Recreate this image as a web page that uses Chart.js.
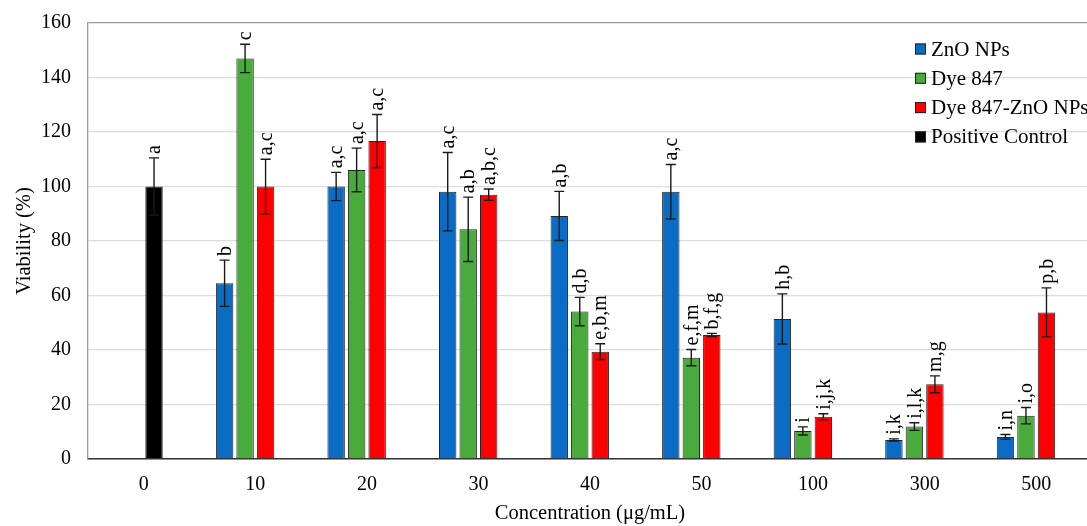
<!DOCTYPE html>
<html>
<head>
<meta charset="utf-8">
<script src="https://cdn.jsdelivr.net/npm/chart.js@4.4.1/dist/chart.umd.min.js"></script>
<style>
  html, body { margin: 0; padding: 0; background: #fff; overflow: hidden; }
</style>
</head>
<body>
<!-- plot area runs a few px past the right edge of the window, as in the figure -->
<canvas id="viabilityChart" width="1092" height="526"></canvas>
<script>
// data
var concentrations = ['0', '10', '20', '30', '40', '50', '100', '300', '500'];

var zno        = [null, 64.5, 100, 98.1, 89.2, 98.1, 51.4, 7.0, 8.1];
var znoErr     = [null, 8.5, 5.2, 14.4, 9.0, 10.0, 9.2, 0.4, 0.9];
var znoLetters = ['', 'b', 'a,c', 'a,c', 'a,b', 'a,c', 'h,b', 'i,k', 'i,n'];

var dye        = [null, 147.0, 106.1, 84.3, 54.1, 37.2, 10.3, 11.9, 15.9];
var dyeErr     = [null, 5.2, 8.0, 11.8, 5.2, 3.0, 1.5, 1.4, 3.0];
var dyeLetters = ['', 'c', 'a,c', 'a,b', 'd,b', 'e,f,m', 'i', 'i,l,k', 'i,o'];

var dyeZno        = [null, 100, 116.7, 97.0, 39.4, 45.5, 15.5, 27.4, 53.8];
var dyeZnoErr     = [null, 10.0, 9.7, 2.1, 2.9, 0.6, 1.1, 3.1, 9.0];
var dyeZnoLetters = ['', 'a,c', 'a,c', 'a,b,c', 'e,b,m', 'b,f,g', 'i,j,k', 'm,g', 'p,b'];

var control        = [100, null, null, null, null, null, null, null, null];
var controlErr     = [10.5, null, null, null, null, null, null, null, null];
var controlLetters = ['a', '', '', '', '', '', '', '', ''];

var yTicks = [0, 20, 40, 60, 80, 100, 120, 140, 160];

var serif = '"Liberation Serif", "Times New Roman", serif';

// error bars + significance letters
var annotate = {
  id: 'annotate',
  afterDatasetsDraw: function (chart) {
    var ctx = chart.ctx;
    var y = chart.scales.y;
    chart.data.datasets.forEach(function (ds, di) {
      if (!ds.errors) return;
      var meta = chart.getDatasetMeta(di);
      meta.data.forEach(function (bar, i) {
        var v = ds.data[i];
        if (v == null) return;
        var e = ds.errors[i] || 0;
        var yt = y.getPixelForValue(v + e);
        var yb = y.getPixelForValue(v - e);
        ctx.save();
        ctx.strokeStyle = '#1a1a1a';
        ctx.lineWidth = 1.4;
        ctx.beginPath();
        ctx.moveTo(bar.x, yt); ctx.lineTo(bar.x, yb);
        ctx.moveTo(bar.x - 5, yt); ctx.lineTo(bar.x + 5, yt);
        ctx.moveTo(bar.x - 5, yb); ctx.lineTo(bar.x + 5, yb);
        ctx.stroke();
        var txt = ds.letters[i];
        if (txt) {
          ctx.translate(bar.x, yt - 4);
          ctx.rotate(-Math.PI / 2);
          ctx.fillStyle = '#000';
          ctx.font = '20px ' + serif;
          ctx.textAlign = 'left';
          ctx.textBaseline = 'middle';
          ctx.fillText(txt, 0, 1);
        }
        ctx.restore();
      });
    });
  },
  afterDraw: function (chart) {
    // legend inside the plot, top right
    var ctx = chart.ctx;
    var x0 = 915, y0 = 49, step = 29.3;
    ctx.save();
    ctx.font = '21px ' + serif;
    ctx.textBaseline = 'middle';
    chart.data.datasets.filter(function (d) { return d.label; }).forEach(function (ds, k) {
      var yy = y0 + k * step;
      ctx.fillStyle = ds.backgroundColor;
      ctx.fillRect(x0, yy - 5.5, 11, 11);
      ctx.strokeStyle = '#222';
      ctx.lineWidth = 1;
      ctx.strokeRect(x0 + 0.5, yy - 5, 10, 10);
      ctx.fillStyle = '#000';
      ctx.fillText(ds.label, x0 + 16, yy + 1);
    });
    ctx.restore();
  }
};

var ctx = document.getElementById('viabilityChart').getContext('2d');
var viabilityChart = new Chart(ctx, {
  type: 'bar',
  data: {
    labels: concentrations,
    datasets: [
      { label: 'ZnO NPs', data: zno, errors: znoErr, letters: znoLetters, stack: 's1',
        backgroundColor: '#0a6cc4' },
      { label: 'Dye 847', data: dye, errors: dyeErr, letters: dyeLetters, stack: 's2',
        backgroundColor: '#48ab3c' },
      { label: 'Dye 847-ZnO NPs', data: dyeZno, errors: dyeZnoErr, letters: dyeZnoLetters, stack: 's3',
        backgroundColor: '#fe0000' },
      // the control bar sits in the third slot, as in the original figure
      { label: 'Positive Control', data: control, errors: controlErr, letters: controlLetters, stack: 's3',
        backgroundColor: '#000000' },
      // empty fourth slot
      { label: '', data: concentrations.map(function () { return null; }), stack: 's4',
        backgroundColor: 'rgba(0,0,0,0)' }
    ]
  },
  options: {
    responsive: false,
    animation: false,
    layout: { padding: { top: 23, left: 0, right: 0, bottom: 0 } },
    datasets: {
      bar: {
        categoryPercentage: 0.735,
        barPercentage: 0.85,
        borderColor: '#262626',
        borderWidth: 1
      }
    },
    plugins: {
      legend: { display: false },
      tooltip: { enabled: false }
    },
    scales: {
      x: {
        stacked: true,
        grid: { display: false, drawTicks: false },
        border: { color: '#333', width: 1.5 },
        ticks: { color: '#000', font: { family: serif, size: 20 }, padding: 14, maxRotation: 0 },
        title: { display: true, text: 'Concentration (μg/mL)', color: '#000',
                 font: { family: serif, size: 20.5 }, padding: { top: 0, bottom: 0 } },
        afterFit: function (s) { s.height = 67; s.paddingLeft = 0; s.paddingRight = 0; }
      },
      y: {
        stacked: true,
        min: 0, max: 160,
        afterBuildTicks: function (s) { s.ticks = yTicks.map(function (v) { return { value: v }; }); },
        grid: {
          drawTicks: false,
          lineWidth: 1.3,
          color: function (c) { return c.tick && c.tick.value === 160 ? '#9a9a9a' : '#dcdcdc'; }
        },
        border: { color: '#9a9a9a', width: 1.3 },
        ticks: { color: '#000', font: { family: serif, size: 20 }, padding: 17 },
        title: { display: true, text: 'Viability (%)', color: '#000',
                 font: { family: serif, size: 20.5 }, padding: { top: 12, bottom: 0 } },
        afterFit: function (s) { s.width = 88; s.paddingTop = 0; s.paddingBottom = 0; }
      }
    }
  },
  plugins: [annotate]
});
</script>
</body>
</html>
